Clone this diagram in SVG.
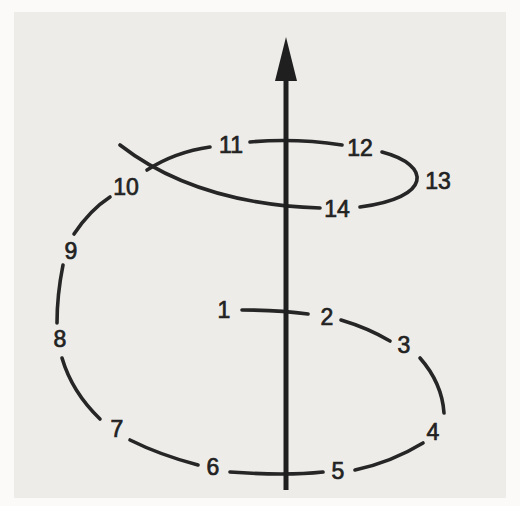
<svg xmlns="http://www.w3.org/2000/svg" width="520" height="506" viewBox="0 0 520 506">
  <defs>
    <style>
      .seg { fill: none; stroke: #262626; stroke-width: 3.6; stroke-linecap: round; }
      .axis { fill: none; stroke: #1f1f1f; stroke-width: 5; }
      .lbl { font-family: "Liberation Sans", Arial, sans-serif; font-size: 23px; fill: #222; text-anchor: middle; stroke: #222; stroke-width: 0.7; }
    </style>
  </defs>
  <rect x="0" y="0" width="520" height="506" fill="#fbfaf8"/>
  <rect x="14" y="12" width="492" height="486" fill="#eeece8"/>
  <g id="connectors">
    <path class="seg" d="M242,310 Q280,310 308,314"/>
    <path class="seg" d="M341,320 Q368,328 390,341"/>
    <path class="seg" d="M420,358 Q442,383 444,413"/>
    <path class="seg" d="M423,443 Q392,462 355,470"/>
    <path class="seg" d="M323,472 Q286,476 230,472"/>
    <path class="seg" d="M198,465 Q160,455 130,440"/>
    <path class="seg" d="M100,419 Q72,392 62,358"/>
    <path class="seg" d="M57,323 Q57,295 63,265"/>
    <path class="seg" d="M74,234 Q90,210 110,197"/>
    <path class="seg" d="M147,170 Q175,152 210,147"/>
    <path class="seg" d="M120,145 C165,180 230,205 320,208"/>
    <path class="seg" d="M250,142 Q295,138 342,145"/>
    <path class="seg" d="M382,152 C432,165 432,198 360,207"/>
    <line class="axis" x1="286" y1="490" x2="286" y2="75"/>
    <polygon points="286,37 297,81 275,81" fill="#1f1f1f"/>
  </g>
  <g id="n1"><text class="lbl" x="224" y="318">1</text></g>
  <g id="n2"><text class="lbl" x="327" y="325">2</text></g>
  <g id="n3"><text class="lbl" x="404" y="353">3</text></g>
  <g id="n4"><text class="lbl" x="433" y="440">4</text></g>
  <g id="n5"><text class="lbl" x="338" y="479">5</text></g>
  <g id="n6"><text class="lbl" x="213" y="475">6</text></g>
  <g id="n7"><text class="lbl" x="117" y="437">7</text></g>
  <g id="n8"><text class="lbl" x="60" y="347">8</text></g>
  <g id="n9"><text class="lbl" x="71" y="259">9</text></g>
  <g id="n10"><text class="lbl" x="126" y="195">10</text></g>
  <g id="n11"><text class="lbl" x="231" y="153">11</text></g>
  <g id="n12"><text class="lbl" x="360" y="156">12</text></g>
  <g id="n13"><text class="lbl" x="438" y="189">13</text></g>
  <g id="n14"><text class="lbl" x="337" y="217">14</text></g>
</svg>
